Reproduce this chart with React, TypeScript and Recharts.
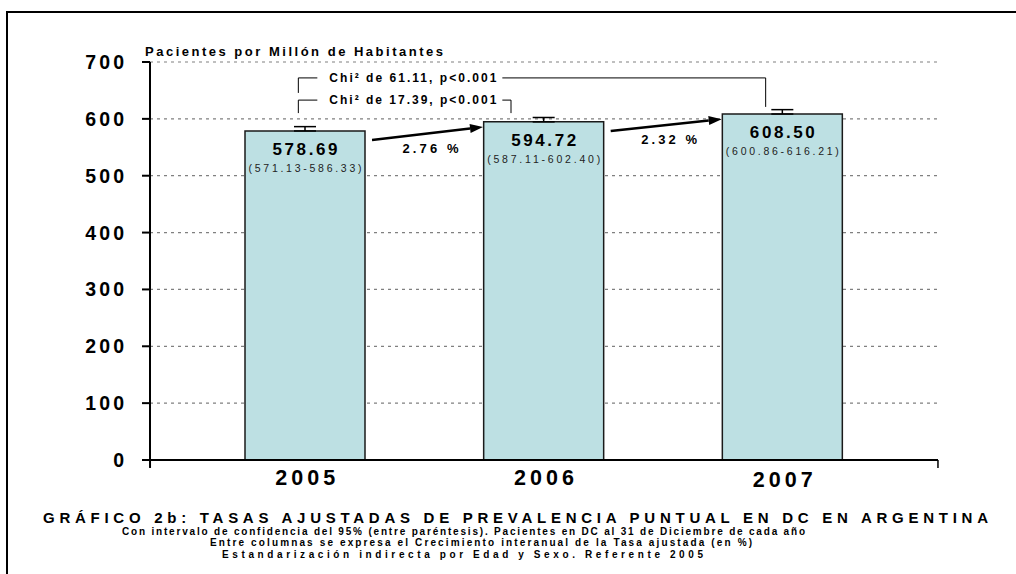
import React from 'react';
import { BarChart, Bar, XAxis, YAxis, CartesianGrid, ErrorBar, LabelList, ReferenceLine } from 'recharts';

const years = ['2005', '2006', '2007'];
const rates = [578.69, 594.72, 608.5];
const ciLow = [571.13, 587.11, 600.86];
const ciHigh = [586.33, 602.4, 616.21];
const growth = ['2.76 %', '2.32 %'];
const chiLabels = ['Chi² de 17.39, p<0.001', 'Chi² de 61.11, p<0.001'];
const chiTo = [1, 2]; // index of the bar each bracket reaches
const chiTop = [633, 672];
const yTicks = [0, 100, 200, 300, 400, 500, 600, 700];

const FONT = '"Liberation Sans", Arial, Helvetica, sans-serif';
const BAR_FILL = '#bde0e3';

const rows = years.map((year, i) => ({ year, rate: rates[i], err: [0, ciHigh[i] - rates[i]] }));
const fmt = (v: number) => v.toFixed(2);

function ValueTick(props: any) {
  const { x, y, payload } = props;
  const s = String(payload.value);
  const n = s.length;
  return (
    <text x={x} y={y + 7} textAnchor="end" fontSize={19.5} fontWeight="bold" fill="#000"
      fontFamily={FONT} textLength={n * 10.8 + (n - 1) * 3.2} lengthAdjust="spacing">
      {s}
    </text>
  );
}

function YearTick(props: any) {
  const { x, y, payload, index } = props;
  const dy = [25, 25, 27][index] ?? 25;
  return (
    <text x={x} y={y + dy} textAnchor="middle" fontSize={21.5} fontWeight="bold" fill="#000"
      fontFamily={FONT} textLength={60} lengthAdjust="spacing">
      {payload.value}
    </text>
  );
}

function BarLabel(props: any) {
  const x = Number(props.x), y = Number(props.y), w = Number(props.width);
  const i = props.index;
  const cx = x + w / 2;
  return (
    <g fontFamily={FONT} fill="#000">
      <text x={cx} y={y + 24} textAnchor="middle" fontSize={17} fontWeight="bold" textLength={65} lengthAdjust="spacing">
        {fmt(rates[i])}
      </text>
      <text x={cx} y={y + 41} textAnchor="middle" fontSize={10.5} textLength={113} lengthAdjust="spacing" fill="#222">
        {`(${fmt(ciLow[i])}-${fmt(ciHigh[i])})`}
      </text>
    </g>
  );
}

// arrow between two bars; x1/x2 arrive at the bar centres
function Arrow(props: any) {
  const { y1, y2, text } = props;
  const x1 = props.x1 + 66.7;
  const x2 = props.x2 - 61;
  const a = Math.atan2(y2 - y1, x2 - x1);
  const L = 13, W = 4.5;
  const bx = x2 - L * Math.cos(a), by = y2 - L * Math.sin(a);
  const pts = `${x2},${y2} ${bx + W * Math.sin(a)},${by - W * Math.cos(a)} ${bx - W * Math.sin(a)},${by + W * Math.cos(a)}`;
  return (
    <g>
      <line x1={x1} y1={y1} x2={bx} y2={by} stroke="#000" strokeWidth={2.5} />
      <polygon points={pts} fill="#000" />
      <text x={(x1 + x2) / 2 + 3} y={(y1 + y2) / 2 + 19} textAnchor="middle" fontSize={13} fontWeight="bold"
        fontFamily={FONT} fill="#000" textLength={56} lengthAdjust="spacing">
        {text}
      </text>
    </g>
  );
}

function Bracket(props: any) {
  const { y1, text, dropL, dropR, dxR } = props;
  const x1 = props.x1 - 7;
  const x2 = props.x2 + dxR;
  return (
    <g stroke="#000" strokeWidth={1} fill="none">
      <polyline points={`${x1},${y1 + dropL} ${x1},${y1} ${x1 + 19},${y1}`} />
      <polyline points={`${x1 + 204},${y1} ${x2},${y1} ${x2},${y1 + dropR}`} />
      <text x={x1 + 31} y={y1 + 4} fontSize={12} fontWeight="bold" fontFamily={FONT} fill="#000" stroke="none"
        textLength={167} lengthAdjust="spacing">
        {text}
      </text>
    </g>
  );
}

function Tail(props: any) {
  const x = props.x1 + props.dx;
  return <line x1={x} y1={props.y1} x2={x} y2={props.y2} stroke="#000" strokeWidth={props.w} />;
}

const drops = [[13, 13], [15, 29]];
const rightShift = [-33, -17];

export default function App() {
  return (
    <div style={{ position: 'fixed', left: 0, top: 0, width: 1016, height: 574, background: '#fff', overflow: 'hidden' }}>
      <div style={{ position: 'absolute', left: 6, top: 11, right: -4, bottom: -4, borderLeft: '2px solid #000', borderTop: '2px solid #000' }} />
      <div style={{ position: 'absolute', left: 0, top: 0 }}>
        <BarChart width={1016} height={574} data={rows} margin={{ top: 62, right: 78, left: 0, bottom: 84 }}>
          <CartesianGrid vertical={false} stroke="#808080" strokeWidth={1.2} strokeDasharray="3 4" />
          <XAxis dataKey="year" padding={{ left: 36, right: 36 }} height={30} tickSize={0} tickMargin={0}
            tickLine={false} axisLine={{ stroke: '#000', strokeWidth: 2 }} tick={<YearTick />} interval={0} />
          <XAxis xAxisId="top" dataKey="year" orientation="top" height={0} tick={false} tickLine={false}
            axisLine={{ stroke: '#000', strokeWidth: 1.5 }} />
          <YAxis domain={[0, 700]} ticks={yTicks} width={150} tickSize={8} tickMargin={18} interval={0}
            axisLine={{ stroke: '#000', strokeWidth: 2 }} tickLine={{ stroke: '#000', strokeWidth: 2 }} tick={<ValueTick />} />
          <YAxis yAxisId="r" orientation="right" width={0} domain={[0, 700]} tick={false} tickLine={false}
            axisLine={{ stroke: '#000', strokeWidth: 1.5 }} />
          <Bar dataKey="rate" fill={BAR_FILL} stroke="#1a1a1a" strokeWidth={1.5} barSize={120} isAnimationActive={false}>
            <ErrorBar dataKey="err" width={11} stroke="#000" strokeWidth={1.5} direction="y" />
            <LabelList dataKey="rate" content={<BarLabel />} />
          </Bar>
          <ReferenceLine ifOverflow="visible" segment={[{ x: years[0], y: 0 }, { x: years[0], y: -14 }]}
            shape={(p: any) => <Tail {...p} dx={-155.3} w={2} />} />
          <ReferenceLine ifOverflow="visible" segment={[{ x: years[2], y: 0 }, { x: years[2], y: -14 }]}
            shape={(p: any) => <Tail {...p} dx={155.3} w={1.5} />} />
          {growth.map((g, i) => (
            <ReferenceLine key={g} ifOverflow="visible"
              segment={[{ x: years[i], y: rates[i] - 16 }, { x: years[i + 1], y: rates[i + 1] - 9 }]}
              shape={(p: any) => <Arrow {...p} text={g} />} />
          ))}
          {chiLabels.map((c, i) => (
            <ReferenceLine key={c} ifOverflow="visible"
              segment={[{ x: years[0], y: chiTop[i] }, { x: years[chiTo[i]], y: chiTop[i] }]}
              shape={(p: any) => <Bracket {...p} text={c} dropL={drops[i][0]} dropR={drops[i][1]} dxR={rightShift[i]} />} />
          ))}
        </BarChart>
      </div>
      <svg width={1016} height={574} style={{ position: 'absolute', left: 0, top: 0, pointerEvents: 'none' }}
        fontFamily={FONT} fontWeight="bold" fill="#000">
        <text x={145} y={56} fontSize={13} textLength={298} lengthAdjust="spacing">Pacientes por Millón de Habitantes</text>
        <text x={43} y={523} fontSize={15} textLength={945} lengthAdjust="spacing">
          GRÁFICO 2b: TASAS AJUSTADAS DE PREVALENCIA PUNTUAL EN DC EN ARGENTINA
        </text>
        <text x={122} y={534.5} fontSize={10} textLength={683} lengthAdjust="spacing">
          Con intervalo de confidencia del 95% (entre paréntesis). Pacientes en DC al 31 de Diciembre de cada año
        </text>
        <text x={210} y={546} fontSize={10} textLength={542} lengthAdjust="spacing">
          Entre columnas se expresa el Crecimiento interanual de la Tasa ajustada (en %)
        </text>
        <text x={222} y={557.5} fontSize={10} textLength={481} lengthAdjust="spacing">
          Estandarización indirecta por Edad y Sexo. Referente 2005
        </text>
      </svg>
    </div>
  );
}
